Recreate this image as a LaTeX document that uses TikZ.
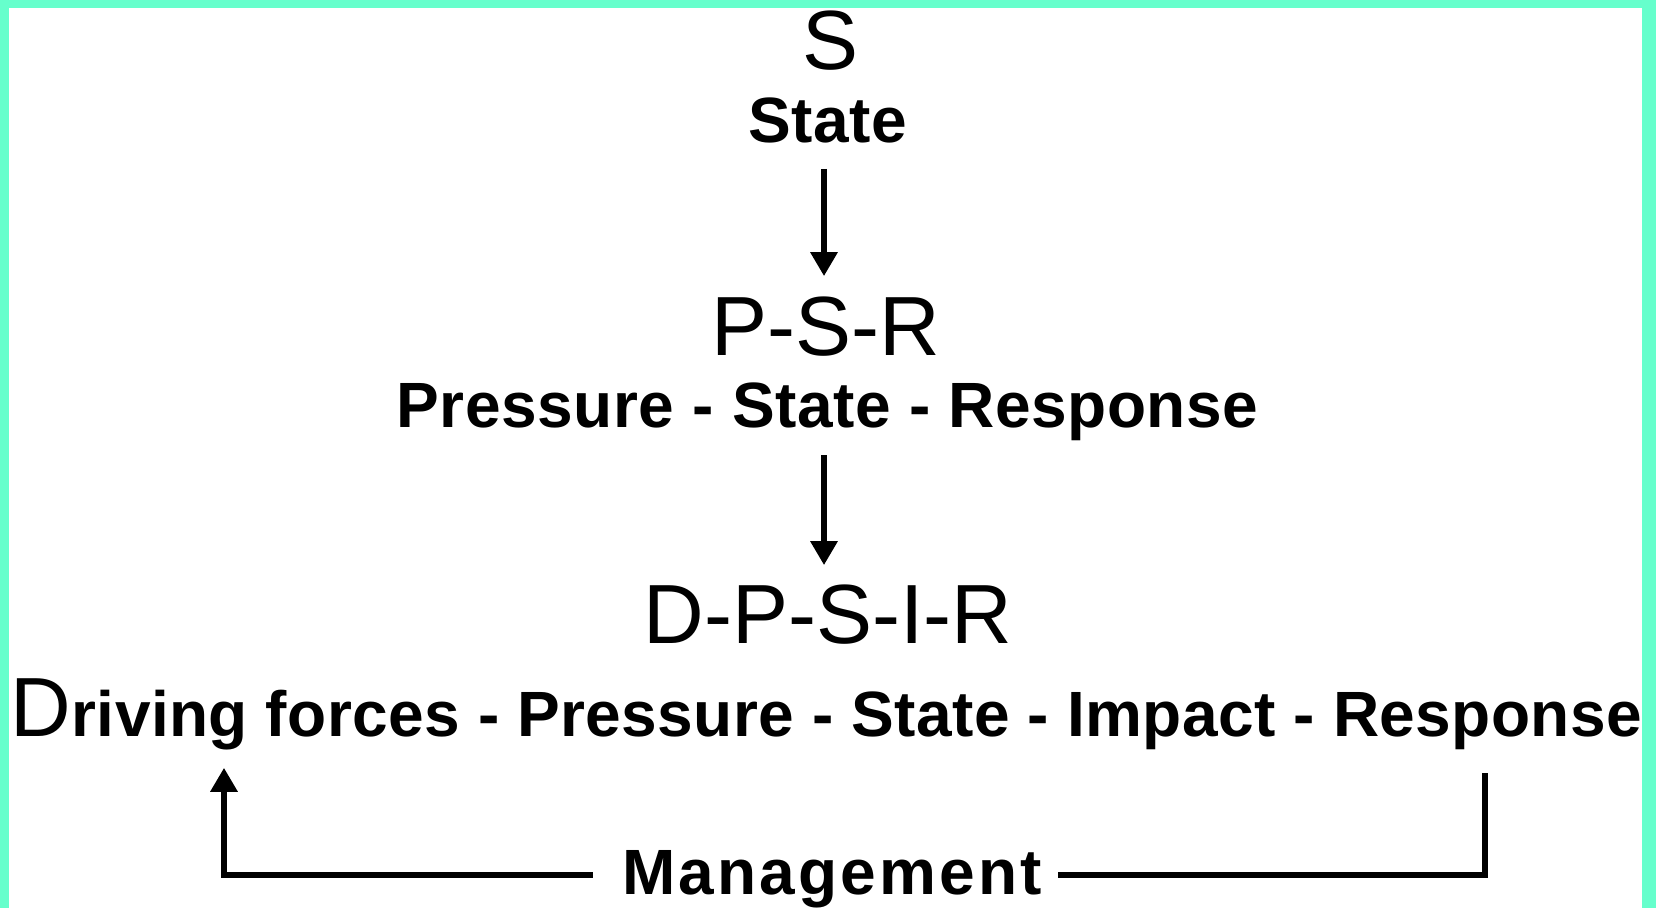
\documentclass[tikz,border=0pt]{standalone}
\usepackage{fontspec}
\setmainfont{Liberation Sans}
\usetikzlibrary{arrows.meta}
\definecolor{framegreen}{RGB}{102,255,204}
\begin{document}
\begin{tikzpicture}[x=1pt,y=-1pt,
  big/.style={inner sep=0pt,anchor=base,font=\fontsize{84}{84}\selectfont},
  lbl/.style={inner sep=0pt,anchor=base,font=\fontsize{64}{64}\selectfont\bfseries\addfontfeatures{LetterSpace=0.8}},
  conn/.style={line width=6pt},
  arr/.style={conn,-{Triangle[width=26pt,length=24pt]}}]
\fill[framegreen] (0,0) rectangle (1656,908);
\fill[white] (9,8) rectangle (1642,908);
\useasboundingbox (0,0) rectangle (1656,908);

\node[big] (s) at (831,69) {S};
\node[lbl] (state) at (827.5,142) {State};
\node[big] (psr) at (826,355) {P-S-R};
\node[lbl] (psrrow) at (827.5,427) {Pressure - State - Response};
\node[big] (dpsir) at (828,643) {D-P-S-I-R};
\node[inner sep=0pt,anchor=base] (drv) at (826.5,736)
  {{\fontsize{84}{84}\selectfont D}{\fontsize{64}{64}\selectfont\bfseries\addfontfeatures{LetterSpace=0.6}riving forces - Pressure - State - Impact - Response}};
\node[lbl,text depth=0pt,font=\fontsize{64}{64}\selectfont\bfseries\addfontfeatures{LetterSpace=5}] (mgmt) at (832,894) {Management};

\coordinate (axis) at (824,0);
\coordinate (lcol) at (224,0);
\coordinate (rcol) at (1485,0);
\coordinate (mline) at (0,875);

\draw[arr, shorten <=26pt, shorten >=20pt] (axis |- state.south) -- (axis |- psr.north);
\draw[arr, shorten <=15pt, shorten >=19pt] (axis |- psrrow.south) -- (axis |- dpsir.north);
\draw[arr, shorten <=29pt, shorten >=18pt] (mgmt.west |- mline) -- (lcol |- mline) -- (lcol |- drv.south);
\draw[conn, shorten <=16pt, shorten >=23pt] (mgmt.east |- mline) -- (rcol |- mline) -- (rcol |- drv.south);
\end{tikzpicture}
\end{document}
